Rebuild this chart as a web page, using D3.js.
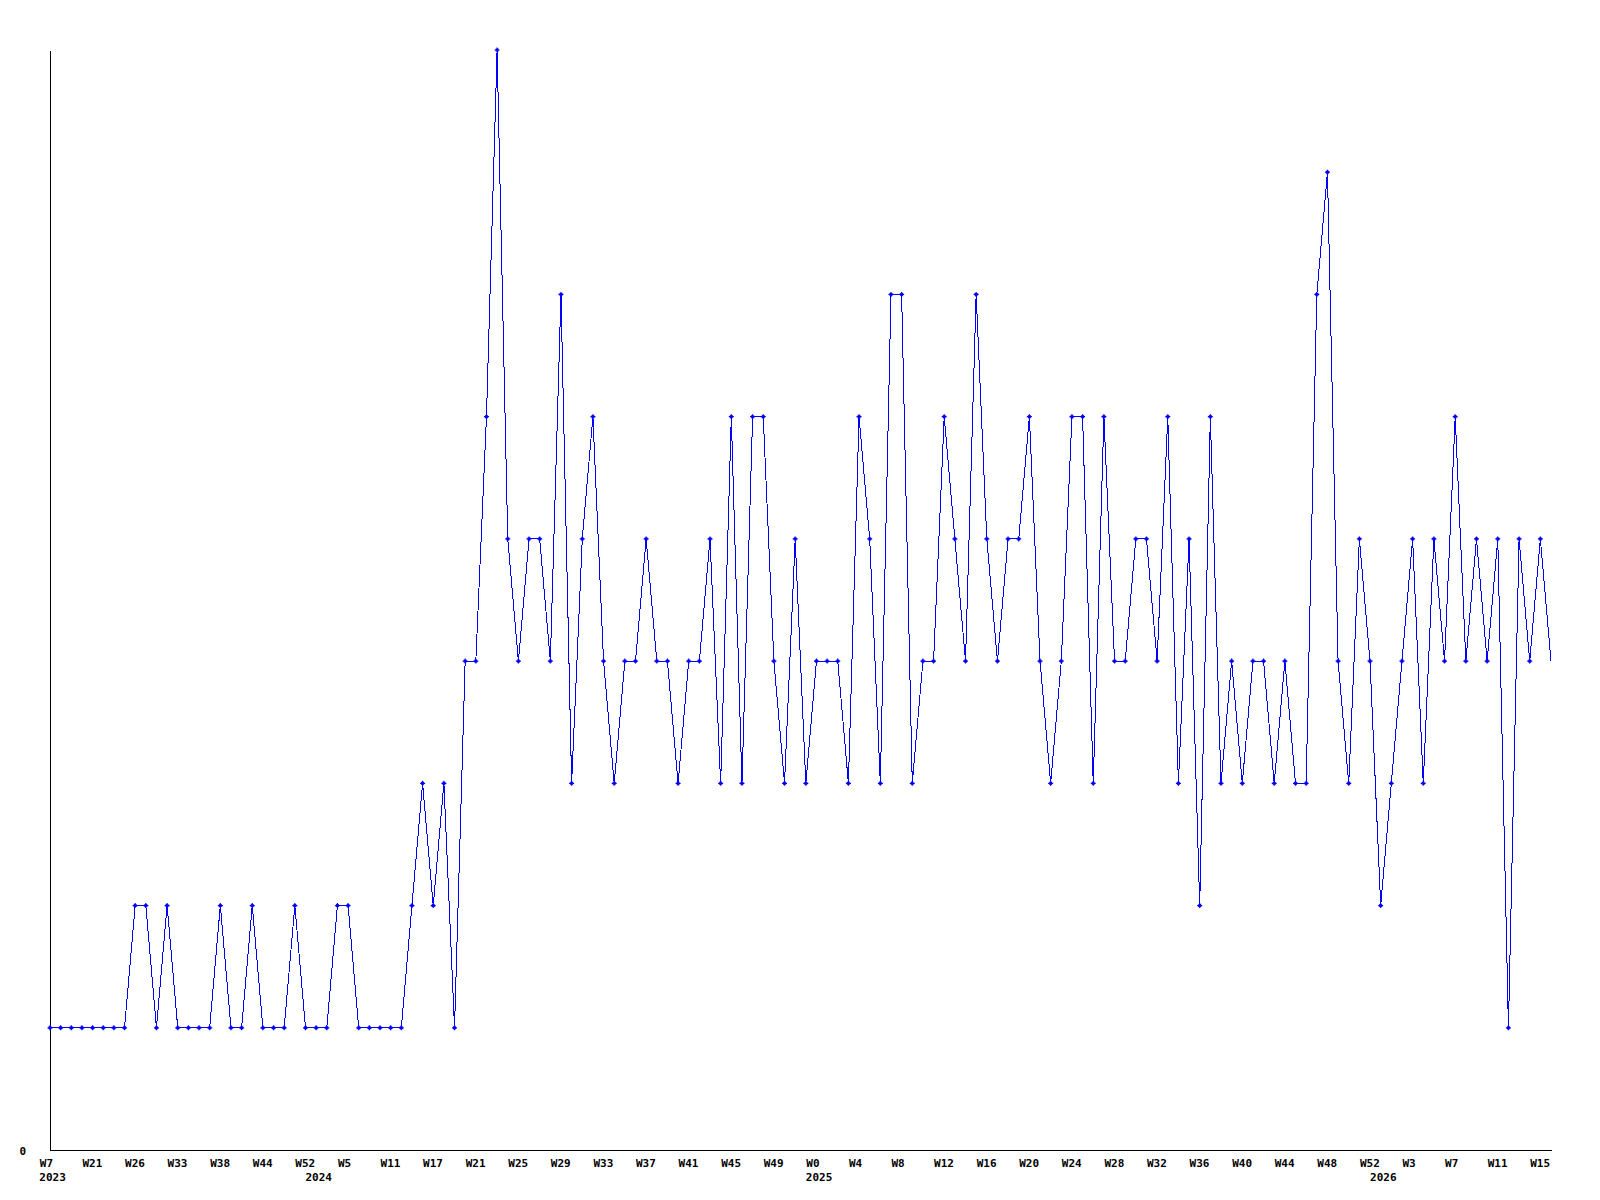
<!DOCTYPE html>
<html>
<head>
<meta charset="utf-8">
<script src="https://cdn.jsdelivr.net/npm/d3@7"></script>
<style>
  body { margin: 0; background: #fff; }
  svg { display: block; }
  .lbl { font-family: "DejaVu Sans Mono", monospace; font-weight: bold; font-size: 11px; fill: #000; }
</style>
</head>
<body>
<div id="chart"></div>
<script>
// weekly counts, one point per recorded week
var values = [
  1, 1, 1, 1, 1, 1, 1, 1, 2, 2,
  1, 2, 1, 1, 1, 1, 2, 1, 1, 2,
  1, 1, 1, 2, 1, 1, 1, 2, 2, 1,
  1, 1, 1, 1, 2, 3, 2, 3, 1, 4,
  4, 6, 9, 5, 4, 5, 5, 4, 7, 3,
  5, 6, 4, 3, 4, 4, 5, 4, 4, 3,
  4, 4, 5, 3, 6, 3, 6, 6, 4, 3,
  5, 3, 4, 4, 4, 3, 6, 5, 3, 7,
  7, 3, 4, 4, 6, 5, 4, 7, 5, 4,
  5, 5, 6, 4, 3, 4, 6, 6, 3, 6,
  4, 4, 5, 5, 4, 6, 3, 5, 2, 6,
  3, 4, 3, 4, 4, 3, 4, 3, 3, 7,
  8, 4, 3, 5, 4, 2, 3, 4, 5, 3,
  5, 4, 6, 4, 5, 4, 5, 1, 5, 4,
  5, 4
];

// labels for every 4th point
var weekLabels = ["W7", "W21", "W26", "W33", "W38", "W44", "W52", "W5", "W11", "W17",
  "W21", "W25", "W29", "W33", "W37", "W41", "W45", "W49", "W0", "W4",
  "W8", "W12", "W16", "W20", "W24", "W28", "W32", "W36", "W40", "W44",
  "W48", "W52", "W3", "W7", "W11", "W15"];

// first point of each year
var yearIndex = [0, 25, 72, 125];
var yearLabels = ["2023", "2024", "2025", "2026"];

var width = 1600, height = 1200;
var margin = { left: 50, right: 1551, top: 50, bottom: 1150 };

var x = d3.scaleLinear().domain([0, values.length - 1]).range([margin.left, margin.right]);
var y = d3.scaleLinear().domain([0, 9]).range([margin.bottom, margin.top]);
var step = x(1) - x(0);

var svg = d3.select("#chart").append("svg")
    .attr("width", width)
    .attr("height", height);

var tickIdx = d3.range(0, values.length, 4);

// x axis: labels sit one step left of their point
var xAxis = d3.axisBottom(x)
    .tickValues(tickIdx)
    .tickSize(0)
    .tickSizeOuter(0)
    .tickPadding(9)
    .tickFormat(function (d, i) { return weekLabels[i]; });

var gx = svg.append("g")
    .attr("transform", "translate(0," + margin.bottom + ")")
    .call(xAxis);
gx.select(".domain").attr("stroke", "#000").attr("shape-rendering", "crispEdges");
gx.selectAll("text")
    .attr("class", "lbl")
    .attr("text-anchor", "start")
    .attr("x", -step);
gx.attr("font-family", null).attr("font-size", null);

svg.selectAll(".year")
    .data(yearIndex)
    .enter().append("text")
    .attr("class", "lbl year")
    .attr("x", function (d) { return x(d - 1); })
    .attr("y", 1180.5)
    .text(function (d, i) { return yearLabels[i]; });

var yAxis = d3.axisLeft(y)
    .tickValues([0])
    .tickSize(0)
    .tickSizeOuter(0)
    .tickPadding(24)
    .tickFormat(d3.format("d"));

var gy = svg.append("g")
    .attr("transform", "translate(" + margin.left + ",0)")
    .call(yAxis);
gy.select(".domain").attr("stroke", "#000").attr("shape-rendering", "crispEdges");
gy.selectAll("text")
    .attr("class", "lbl")
    .attr("dy", "0.45em");
gy.attr("font-family", null).attr("font-size", null);

var line = d3.line()
    .x(function (d, i) { return x(i); })
    .y(function (d) { return y(d); });

svg.append("path")
    .datum(values)
    .attr("d", line)
    .attr("fill", "none")
    .attr("stroke", "#0000ff")
    .attr("stroke-width", 1)
    .attr("shape-rendering", "crispEdges");

// markers (last, partial week has none)
var marks = svg.selectAll(".mark")
    .data(values.slice(0, values.length - 1))
    .enter().append("g")
    .attr("class", "mark")
    .attr("transform", function (d, i) { return "translate(" + x(i) + "," + y(d) + ")"; });

marks.append("path")
    .attr("d", "M-2.5,0H2.5M0,-2.5V2.5")
    .attr("stroke", "#0000ff")
    .attr("stroke-width", 1.2);
marks.append("rect")
    .attr("x", -1.5).attr("y", -1.5)
    .attr("width", 3).attr("height", 3)
    .attr("fill", "#0000ff");
</script>
</body>
</html>
